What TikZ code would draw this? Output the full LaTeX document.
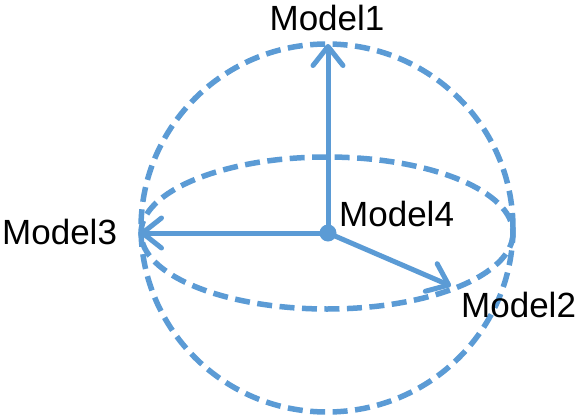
\documentclass[tikz,border=0pt]{standalone}
\usepackage{fontspec}
\setmainfont{Liberation Sans}
\usetikzlibrary{arrows.meta}
\definecolor{sblue}{HTML}{5B9BD5}
\tikzset{
  dashline/.style={draw=sblue, line width=5.5pt, dash pattern=on 15pt off 7.5pt},
  axisarrow/.style={draw=sblue, line width=5pt, line cap=round, -{Straight Barb[length=19pt,width=30pt,line width=5pt,round]}},
  lbl/.style={font=\fontsize{35}{35}\selectfont, text=black, inner sep=0pt},
}
\begin{document}
\begin{tikzpicture}[x=1pt,y=-1pt]
\useasboundingbox (0,0) rectangle (587,418);
\draw[dashline] (327,228) ellipse [x radius=186, y radius=184];
\draw[dashline] (327,233) ellipse [x radius=186, y radius=76];
\node[circle, fill=sblue, inner sep=0pt, minimum size=17pt] (o) at (328,233) {};
\coordinate (t1) at (328,44);
\coordinate (t3) at (140,233);
\coordinate (t2) at (451,286);
\draw[axisarrow] (o.center) -- (t1);
\draw[axisarrow] (o.center) -- (t3);
\draw[axisarrow] (o.center) -- (t2);
\node[lbl] (m1) at (327,18) {Model1};
\node[lbl, anchor=west] (m3) at (2,232) {Model3};
\node[lbl, anchor=west] (m4) at (339,214) {Model4};
\node[lbl, anchor=west] (m2) at (461,305) {Model2};
\end{tikzpicture}
\end{document}
